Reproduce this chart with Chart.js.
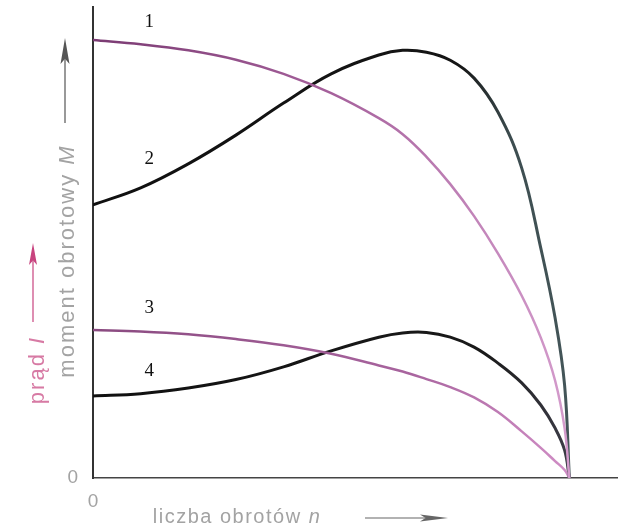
<!DOCTYPE html>
<html>
<head>
<meta charset="utf-8">
<script src="https://cdn.jsdelivr.net/npm/chart.js@4/dist/chart.umd.min.js"></script>
<style>
  html, body { margin: 0; padding: 0; background: #fff; }
  #wrap { width: 625px; height: 528px; }
</style>
</head>
<body>
<div id="wrap"><canvas id="motor-chart" width="625" height="528"></canvas></div>
<script>
// speed n (0 = standstill, 100 = synchronous speed)
var speed = [0, 10, 20, 30, 40, 50, 60, 65, 70, 75, 80, 85, 90, 94, 97, 99, 100];

// 1 - current I, 2 - torque M (upper pair)
var current1 = [93.0, 92.1, 90.8, 88.8, 85.8, 81.7, 76.4, 73.0, 68.2, 62.4, 55.6, 47.7, 38.7, 29.8, 20.7, 10.6, 0];
var torque2 = [58.0, 61.6, 66.7, 72.8, 79.6, 85.8, 89.8, 90.8, 90.4, 88.7, 84.9, 77.7, 65.8, 48.8, 34.0, 19.7, 0];
// 3 - current I, 4 - torque M (lower pair)
var current3 = [31.4, 31.1, 30.5, 29.5, 28.2, 26.4, 23.9, 22.6, 21.0, 19.3, 17.1, 14.0, 9.9, 6.4, 3.6, 1.7, 0];
var torque4 = [17.4, 17.9, 19.1, 20.9, 23.6, 27.0, 29.9, 30.8, 30.9, 29.9, 27.8, 24.4, 20.2, 15.5, 10.6, 5.9, 0];

var curveNames = ["1", "2", "3", "4"];
var curveNameX = [11.8, 11.8, 11.8, 11.8];
var curveNameY = [96.8, 67.8, 36.1, 22.7];

var yTitle = "moment obrotowy ";
var yTitleVar = "M";
var currentTitle = "prąd ";
var currentTitleVar = "I";
var xTitle = "liczba obrotów ";
var xTitleVar = "n";

function toPoints(values) {
    var pts = [];
    for (var i = 0; i < speed.length; i++) {
        pts.push({ x: speed[i], y: values[i] });
    }
    return pts;
}

function gradient(stops) {
    return function (context) {
        var area = context.chart.chartArea;
        if (!area) {
            return stops[0][1];
        }
        var g = context.chart.ctx.createLinearGradient(area.left, 0, area.right, 0);
        for (var i = 0; i < stops.length; i++) {
            g.addColorStop(stops[i][0], stops[i][1]);
        }
        return g;
    };
}

function drawArrow(ctx, x1, y1, x2, y2, headLen, headW, color) {
    var ang = Math.atan2(y2 - y1, x2 - x1);
    ctx.save();
    ctx.strokeStyle = color;
    ctx.fillStyle = color;
    ctx.lineWidth = 1.2;
    ctx.beginPath();
    ctx.moveTo(x1, y1);
    ctx.lineTo(x2 - Math.cos(ang) * headLen * 0.8, y2 - Math.sin(ang) * headLen * 0.8);
    ctx.stroke();
    ctx.translate(x2, y2);
    ctx.rotate(ang);
    ctx.beginPath();
    ctx.moveTo(0, 0);
    ctx.lineTo(-headLen, -headW / 2);
    ctx.lineTo(-headLen * 0.8, 0);
    ctx.lineTo(-headLen, headW / 2);
    ctx.closePath();
    ctx.fill();
    ctx.restore();
}

// draws "text" + italic "variable" centred on (0,0)
function drawTitle(ctx, text, variable, size, color) {
    ctx.fillStyle = color;
    ctx.textBaseline = "middle";
    ctx.textAlign = "left";
    ctx.font = "300 " + size + "px 'Liberation Sans', Arial, sans-serif";
    var w1 = ctx.measureText(text).width;
    ctx.font = "italic 300 " + size + "px 'Liberation Sans', Arial, sans-serif";
    var w2 = ctx.measureText(variable).width;
    var total = w1 + w2;
    ctx.font = "300 " + size + "px 'Liberation Sans', Arial, sans-serif";
    ctx.fillText(text, -total / 2, 0);
    ctx.font = "italic 300 " + size + "px 'Liberation Sans', Arial, sans-serif";
    ctx.fillText(variable, -total / 2 + w1, 0);
}

var decorPlugin = {
    id: "decor",
    afterDraw: function (chart) {
        var ctx = chart.ctx;
        var xs = chart.scales.x;
        var ys = chart.scales.y;

        // curve numbers
        ctx.save();
        ctx.fillStyle = "#111";
        ctx.font = "19px 'Liberation Serif', 'Times New Roman', serif";
        ctx.textAlign = "center";
        ctx.textBaseline = "middle";
        for (var i = 0; i < curveNames.length; i++) {
            ctx.fillText(curveNames[i], xs.getPixelForValue(curveNameX[i]), ys.getPixelForValue(curveNameY[i]));
        }
        ctx.restore();

        // torque title, rotated
        ctx.save();
        ctx.letterSpacing = "2px";
        ctx.translate(68, 261);
        ctx.rotate(-Math.PI / 2);
        drawTitle(ctx, yTitle, yTitleVar, 22, "#a3a3a3");
        ctx.restore();
        drawArrow(ctx, 65, 123, 65, 38, 26, 9, "#555");

        // current title, rotated
        ctx.save();
        ctx.letterSpacing = "2px";
        ctx.translate(38, 370);
        ctx.rotate(-Math.PI / 2);
        drawTitle(ctx, currentTitle, currentTitleVar, 22, "#d77aa4");
        ctx.restore();
        drawArrow(ctx, 33, 322, 33, 243, 22, 8, "#c8447f");

        // speed title
        ctx.save();
        ctx.letterSpacing = "1.5px";
        ctx.translate(237, 517);
        drawTitle(ctx, xTitle, xTitleVar, 20, "#a3a3a3");
        ctx.restore();
        drawArrow(ctx, 365, 518, 448, 518, 28, 7, "#666");
    }
};

var pink = gradient([[0, "#7a3a72"], [0.45, "#a5609b"], [0.9, "#d39acb"], [1, "#d39acb"]]);
var pinkLow = gradient([[0, "#8a4a80"], [0.6, "#a8649e"], [0.9, "#cf8cc4"], [1, "#cf8cc4"]]);
var black = gradient([[0, "#101010"], [0.7, "#151515"], [0.8, "#3d4d50"], [1, "#4a5d60"]]);
var blackLow = gradient([[0, "#101010"], [0.75, "#1a1a1a"], [0.9, "#3a3a44"], [1, "#3a3a44"]]);

function noPadding(scale) {
    scale.paddingTop = 0;
    scale.paddingBottom = 0;
    scale.paddingLeft = 0;
    scale.paddingRight = 0;
}

var motorChart = new Chart("motor-chart", {
    type: "line",
    data: {
        datasets: [
            { label: "1", data: toPoints(current1), borderColor: pink, borderWidth: 2.5 },
            { label: "2", data: toPoints(torque2), borderColor: black, borderWidth: 3 },
            { label: "3", data: toPoints(current3), borderColor: pinkLow, borderWidth: 2.5 },
            { label: "4", data: toPoints(torque4), borderColor: blackLow, borderWidth: 3 }
        ]
    },
    options: {
        responsive: false,
        animation: false,
        events: [],
        layout: { padding: { top: 7, right: 8, left: 0, bottom: 0 } },
        elements: {
            point: { radius: 0 },
            line: { tension: 0.4, fill: false, borderCapStyle: "round", borderJoinStyle: "round" }
        },
        plugins: {
            legend: { display: false },
            tooltip: { enabled: false }
        },
        scales: {
            x: {
                type: "linear",
                min: 0,
                max: 110,
                grid: { display: false, drawTicks: false, tickLength: 0 },
                border: { display: true, color: "#444", width: 1.5 },
                afterBuildTicks: function (scale) { scale.ticks = [{ value: 0 }]; },
                afterFit: function (scale) { scale.height = 50; noPadding(scale); },
                ticks: {
                    padding: 12,
                    color: "#a3a3a3",
                    font: { family: "'Liberation Sans', Arial, sans-serif", size: 19, weight: "300" },
                    callback: function (v) { return v === 0 ? "0" : ""; }
                }
            },
            y: {
                type: "linear",
                min: 0,
                max: 100,
                grid: { display: false, drawTicks: false, tickLength: 0 },
                border: { display: true, color: "#333", width: 2 },
                afterBuildTicks: function (scale) { scale.ticks = [{ value: 0 }]; },
                afterFit: function (scale) { scale.width = 93; noPadding(scale); },
                ticks: {
                    padding: 15,
                    color: "#a3a3a3",
                    font: { family: "'Liberation Sans', Arial, sans-serif", size: 19, weight: "300" },
                    callback: function (v) { return v === 0 ? "0" : ""; }
                }
            }
        }
    },
    plugins: [decorPlugin]
});
</script>
</body>
</html>
